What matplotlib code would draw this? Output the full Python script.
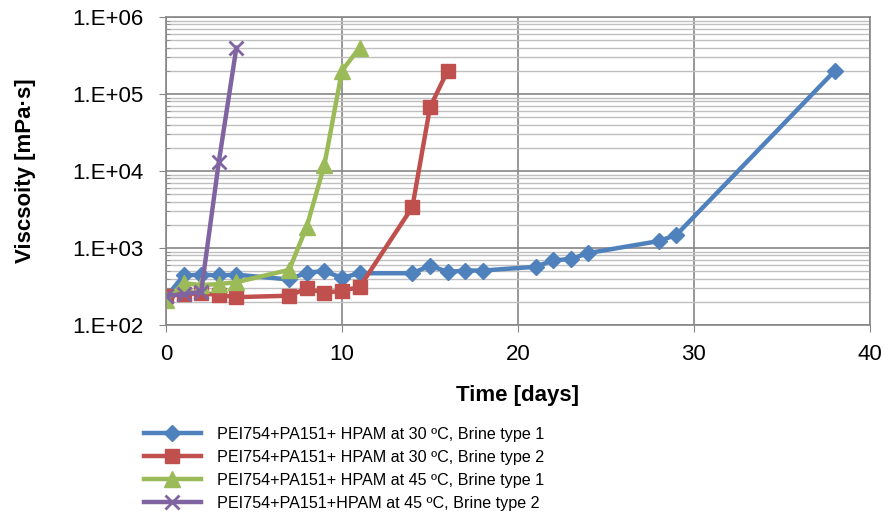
import matplotlib
matplotlib.use("Agg")
import matplotlib.pyplot as plt
from matplotlib.ticker import LogLocator, FixedLocator

plt.rcParams["font.family"] = ["Liberation Sans", "DejaVu Sans"]

# data
days_b1 = [0, 1, 2, 3, 4, 7, 8, 9, 10, 11, 14, 15, 16, 17, 18, 21, 22, 23, 24, 28, 29, 38]
visc_b1 = [230, 440, 450, 440, 450, 390, 480, 500, 410, 470, 470, 590, 490, 510, 510,
           570, 690, 720, 860, 1230, 1480, 200000]

days_r2 = [0, 1, 2, 3, 4, 7, 8, 9, 10, 11, 14, 15, 16]
visc_r2 = [240, 250, 260, 245, 230, 240, 300, 260, 280, 310, 3400, 67000, 200000]

days_g1 = [0, 1, 2, 3, 4, 7, 8, 9, 10, 11]
visc_g1 = [210, 350, 330, 340, 360, 520, 1900, 12000, 200000, 400000]

days_p2 = [0, 1, 2, 3, 4]
visc_p2 = [240, 250, 270, 13000, 400000]

labels = [
    "PEI754+PA151+ HPAM at 30 ºC, Brine type 1",
    "PEI754+PA151+ HPAM at 30 ºC, Brine type 2",
    "PEI754+PA151+ HPAM at 45 ºC, Brine type 1",
    "PEI754+PA151+HPAM at 45 ºC, Brine type 2",
]
y_ticks = [1e2, 1e3, 1e4, 1e5, 1e6]
y_tick_labels = ["1.E+02", "1.E+03", "1.E+04", "1.E+05", "1.E+06"]

fig = plt.figure(figsize=(8.89, 5.22), dpi=100)
ax = fig.add_axes([0.1867, 0.3774, 0.7919, 0.59])

series = [
    (days_b1, visc_b1, "#4F81BD", "D", 8),
    (days_r2, visc_r2, "#C0504D", "s", 10),
    (days_g1, visc_g1, "#9BBB59", "^", 11),
    (days_p2, visc_p2, "#8064A2", "x", 10),
]
for (x, y, c, m, ms), lab in zip(series, labels):
    ax.plot(x, y, color=c, marker=m, markersize=ms, linewidth=3.2,
            markeredgewidth=2 if m == "x" else 1, markeredgecolor=c, label=lab)

ax.set_yscale("log")
ax.set_ylim(1e2, 1e6)
ax.set_xlim(0, 40)
ax.yaxis.set_major_locator(FixedLocator(y_ticks))
ax.set_yticklabels(y_tick_labels)
ax.yaxis.set_minor_locator(LogLocator(base=10, subs=range(2, 10)))
ax.yaxis.set_minor_formatter(plt.NullFormatter())
ax.set_xticks([0, 10, 20, 30, 40])

ax.grid(True, which="major", color="#868686", linewidth=1.2)
ax.grid(True, which="minor", axis="y", color="#bfbfbf", linewidth=1.0)
ax.set_axisbelow(True)
for s in ax.spines.values():
    s.set_color("#868686")
    s.set_linewidth(1.2)

ax.tick_params(axis="both", which="major", labelsize=16, direction="out",
               length=5, color="#868686")
ax.tick_params(axis="x", which="major", pad=9)
ax.tick_params(axis="y", which="major", pad=11)
ax.tick_params(axis="y", which="minor", direction="in", length=3, color="#868686")

ax.set_xlabel("Time [days]", fontsize=16, fontweight="bold", labelpad=14)
ax.set_ylabel("Viscsoity [mPa·s]", fontsize=16, fontweight="bold", labelpad=26)

fig.legend(loc="upper left", bbox_to_anchor=(0.155, 0.195), frameon=False,
           fontsize=11.6, handlelength=3.5, handletextpad=1.0, labelspacing=0.5,
           borderaxespad=0)

fig.savefig("out.png", dpi=100)
